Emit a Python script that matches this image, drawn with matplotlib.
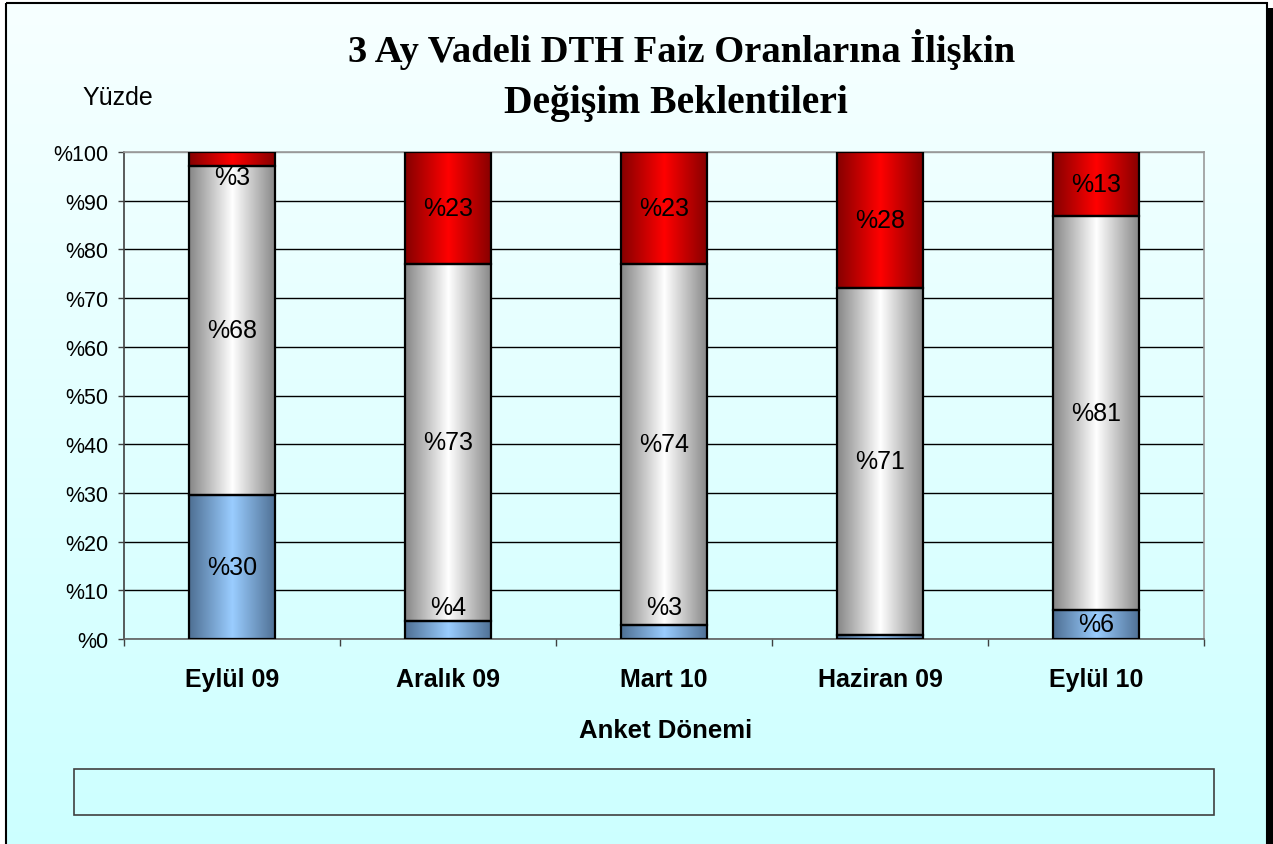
import numpy as np
import matplotlib.pyplot as plt
from matplotlib.patches import Rectangle
from matplotlib.colors import LinearSegmentedColormap, to_rgb

plt.rcParams['font.family'] = ['Liberation Sans', 'DejaVu Sans']

categories = ['Eylül 09', 'Aralık 09', 'Mart 10', 'Haziran 09', 'Eylül 10']
dusus = [29.6, 3.7, 2.9, 0.8, 6.0]        # blue, bottom
degismez = [67.6, 73.4, 74.1, 71.3, 80.9]  # grey, middle
artis = [2.8, 22.9, 23.0, 27.9, 13.1]      # red, top
yticks = list(range(0, 101, 10))

W, H = 1273, 845
fig = plt.figure(figsize=(W / 100, H / 100), dpi=100)

# background frame with vertical gradient
bg = fig.add_axes([0, 0, 1, 1])
bgcmap = LinearSegmentedColormap.from_list('bg', ['#F7FFFF', '#CCFFFF'])
bg.imshow(np.linspace(0, 1, 256).reshape(-1, 1), cmap=bgcmap,
          extent=[6, 1267, H + 10, 4], aspect='auto', interpolation='bilinear')
bg.add_patch(Rectangle((1267, 9), 7, H, facecolor='black', edgecolor='none'))
bg.add_patch(Rectangle((6, 4), 1261, H + 20, fill=False, edgecolor='black', lw=1.5))
bg.add_patch(Rectangle((74, 770), 1140, 46, fill=False, edgecolor='#404040', lw=1.2))
bg.set_xlim(0, W)
bg.set_ylim(H, 0)
bg.axis('off')

ax = fig.add_axes([124 / W, 1 - 640 / H, 1080 / W, 487 / H])
ax.patch.set_alpha(0)

x = np.arange(len(categories))
width = 0.4
series = [
    (dusus, '#4E6F93', '#9ACDFF'),
    (degismez, '#868686', '#FFFFFF'),
    (artis, '#850000', '#FF0000'),
]


def fill_gradient(ax, patch, edge, mid):
    u = np.linspace(0, 1, 200)
    t = 1 - np.abs(2 * u - 1)
    c0 = np.array(to_rgb(edge))
    c1 = np.array(to_rgb(mid))
    rgb = c0[None, :] * (1 - t[:, None]) + c1[None, :] * t[:, None]
    x0, y0 = patch.get_x(), patch.get_y()
    ax.imshow(rgb[None, :, :], extent=[x0, x0 + patch.get_width(), y0, y0 + patch.get_height()],
              aspect='auto', interpolation='bilinear', zorder=2)


bottom = np.zeros(len(categories))
for si, (vals, edge, mid) in enumerate(series):
    bars = ax.bar(x, vals, width, bottom=bottom, fill=False, edgecolor='black', lw=1.6, zorder=3)
    for i, p in enumerate(bars):
        fill_gradient(ax, p, edge, mid)
        v = vals[i]
        if v < 1:
            continue
        yc = bottom[i] + v / 2
        if v < 5 and si == 0:
            yc = 6.5
        elif v < 5 and si == len(series) - 1:
            yc = 94.8
        ax.text(x[i], yc, '%' + str(int(round(v))), ha='center', va='center',
                fontsize=18, zorder=4)
    bottom = bottom + np.array(vals)

ax.set_xlim(-0.5, len(categories) - 0.5)
ax.set_ylim(0, 100)
ax.set_yticks(yticks)
ax.set_yticklabels(['%' + str(v) for v in yticks], fontsize=15.5)
ax.tick_params(axis='y', direction='out', length=4.5, width=1, color='#404040', pad=7)

ax.set_xticks(np.arange(-0.5, len(categories), 1))
ax.set_xticklabels([])
ax.set_xticks(x, minor=True)
ax.set_xticklabels(categories, minor=True, fontsize=18, fontweight='bold')
ax.tick_params(axis='x', which='major', direction='out', length=5, width=1, color='#404040')
ax.tick_params(axis='x', which='minor', length=0, pad=20)

ax.set_axisbelow(True)
ax.yaxis.grid(True, color='black', lw=1)
ax.get_ygridlines()[-1].set_color('#999999')
ax.spines['left'].set_color('#404040')
ax.spines['bottom'].set_color('#606060')
ax.spines['top'].set_color('#999999')
ax.spines['right'].set_color('#999999')
for s in ax.spines.values():
    s.set_linewidth(1.2)

title_font = ['Liberation Serif', 'DejaVu Serif']
fig.text(682 / W, 1 - 62 / H, '3 Ay Vadeli DTH Faiz Oranlarına İlişkin', ha='center', va='baseline',
         fontsize=27.7, fontweight='bold', family=title_font)
fig.text(676 / W, 1 - 113 / H, 'Değişim Beklentileri', ha='center', va='baseline',
         fontsize=28.5, fontweight='bold', family=title_font)
fig.text(82 / W, 1 - 98 / H, 'Yüzde', ha='left', va='center', fontsize=18)
fig.text(666 / W, 1 - 731 / H, 'Anket Dönemi', ha='center', va='center', fontsize=18.5, fontweight='bold')

fig.savefig('out.png', dpi=100)
